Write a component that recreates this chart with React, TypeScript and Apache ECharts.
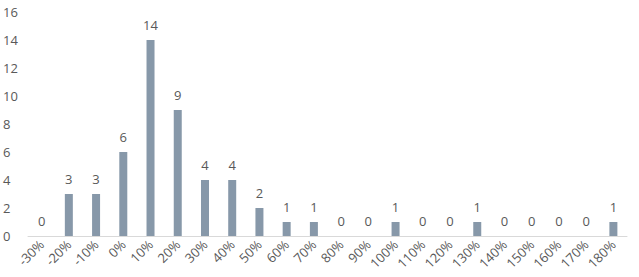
import React, { useEffect, useRef } from "react";
import * as echarts from "echarts";

const categories = ["-30%", "-20%", "-10%", "0%", "10%", "20%", "30%", "40%", "50%", "60%", "70%", "80%", "90%", "100%", "110%", "120%", "130%", "140%", "150%", "160%", "170%", "180%"];
const counts = [0, 3, 3, 6, 14, 9, 4, 4, 2, 1, 1, 0, 0, 1, 0, 0, 1, 0, 0, 0, 0, 1];
const yTicks = { min: 0, max: 16, interval: 2 };

export default function App() {
  const ref = useRef<HTMLDivElement>(null);
  useEffect(() => {
    document.body.style.margin = "0";
    const chart = echarts.init(ref.current!, null, { renderer: "svg" });
    const font = "'Open Sans', 'Noto Sans', sans-serif";
    chart.setOption({
      animation: false,
      textStyle: { fontFamily: font },
      grid: { left: 28, right: 12, top: 12, bottom: 41, containLabel: false },
      xAxis: {
        type: "category",
        data: categories,
        axisLine: { lineStyle: { color: "#d9d9d9", width: 1 } },
        axisTick: { show: false },
        axisLabel: { rotate: 45, color: "#595959", fontSize: 13, fontFamily: font, margin: 6, interval: 0 },
      },
      yAxis: {
        type: "value",
        min: yTicks.min,
        max: yTicks.max,
        interval: yTicks.interval,
        splitLine: { show: false },
        axisLine: { show: false },
        axisTick: { show: false },
        axisLabel: { color: "#595959", fontSize: 13, fontFamily: font, align: "left", margin: 25 },
      },
      series: [
        {
          type: "bar",
          data: counts,
          barWidth: 8,
          itemStyle: { color: "#8798a9" },
          label: { show: true, position: "top", distance: 9, color: "#595959", fontSize: 13, fontFamily: font },
        },
      ],
    });
    return () => chart.dispose();
  }, []);
  return <div ref={ref} style={{ width: 639, height: 277 }} />;
}
